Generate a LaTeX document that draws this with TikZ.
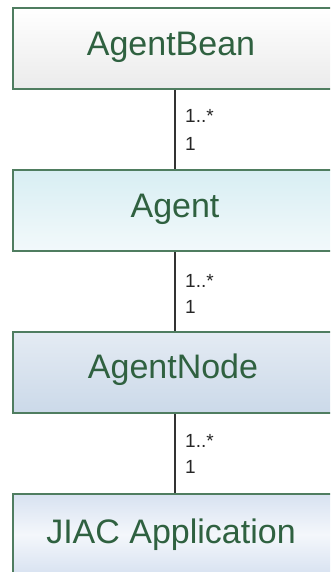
\documentclass[tikz,border=0pt]{standalone}
\usepackage{fontspec}
\setmainfont{Liberation Sans}
\usetikzlibrary{shadings}
\definecolor{bordergreen}{HTML}{4F7D60}
\definecolor{textgreen}{HTML}{2F6140}
\definecolor{linegray}{HTML}{333333}
\definecolor{jiacblue}{RGB}{194,210,233}
\definecolor{jiacwhite}{RGB}{244,247,251}
\pgfdeclareverticalshading{jiacshade}{100bp}{color(0bp)=(jiacblue); color(15bp)=(jiacblue!80!jiacwhite); color(50bp)=(jiacwhite); color(85bp)=(jiacblue!80!jiacwhite); color(100bp)=(jiacblue)}
\tikzset{
  box/.style={draw=bordergreen, line width=2pt, rectangle, anchor=north west,
    minimum width=324pt, minimum height=81pt, inner sep=0pt},
  boxtext/.style={anchor=base, text=textgreen, inner sep=0pt,
    font=\fontsize{34}{40}\selectfont},
  mult/.style={anchor=base west, text=black!85, inner sep=0pt,
    font=\fontsize{19}{22}\selectfont},
  conn/.style={draw=linegray, line width=2.2pt},
}
\begin{document}
\begin{tikzpicture}[x=1pt,y=-1pt]
\useasboundingbox (0,0) rectangle (330,572);
\clip (0,0) rectangle (330,572);
\node[box, top color=white, bottom color=black!8] (b1) at (12,7) {};
\node[box, top color={rgb,255:red,216;green,238;blue,243}, bottom color={rgb,255:red,242;green,249;blue,251}] (b2) at (12,169) {};
\node[box, top color={rgb,255:red,228;green,235;blue,243}, bottom color={rgb,255:red,203;green,217;blue,233}] (b3) at (12,331) {};
\node[box, shading=jiacshade] (b4) at (12,493) {};
\node[boxtext] (t1) at (171,56) {AgentBean};
\node[boxtext] (t2) at (175,217) {Agent};
\node[boxtext] (t3) at (173,378) {AgentNode};
\node[boxtext] (t4) at (171,543) {JIAC Application};
\draw[conn] (b1.south) -- (b2.north);
\draw[conn] (b2.south) -- (b3.north);
\draw[conn] (b3.south) -- (b4.north);
\node[mult] (m1a) at (185,123) {1..*};
\node[mult] (m1b) at (185,151) {1};
\node[mult] (m2a) at (185,287) {1..*};
\node[mult] (m2b) at (185,313) {1};
\node[mult] (m3a) at (185,447) {1..*};
\node[mult] (m3b) at (185,473) {1};
\end{tikzpicture}
\end{document}
